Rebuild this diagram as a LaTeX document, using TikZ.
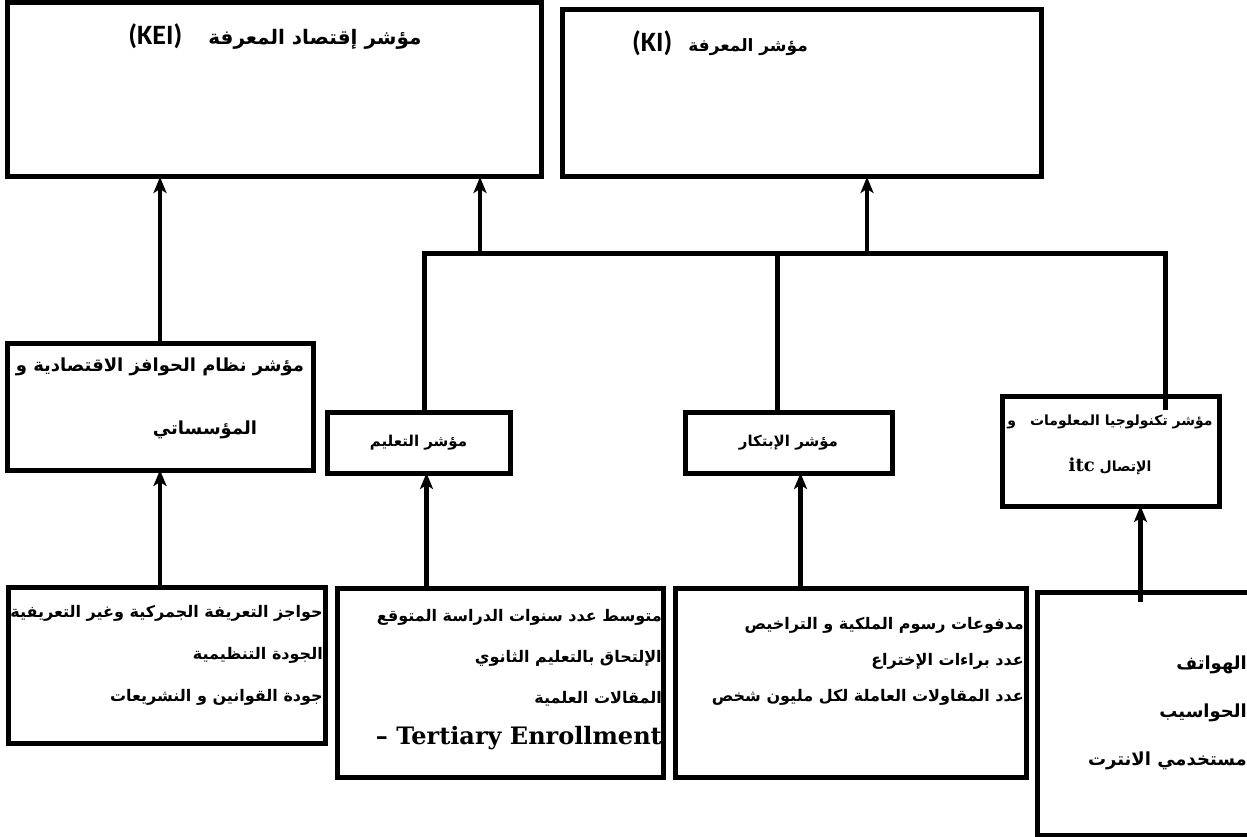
\documentclass[tikz,border=0pt]{standalone}
\usepackage{fontspec}
\setmainfont{DejaVu Serif}
\newfontfamily\arabicfont[Script=Arabic]{DejaVu Sans}
\newfontfamily\calfont{Carlito}
\newfontfamily\serifbf{DejaVu Serif}
\TeXXeTstate=1
\usetikzlibrary{arrows.meta, positioning}

\newcommand{\artxt}[1]{\beginR #1\endR}
\newcommand{\ltrtxt}[1]{\beginL #1\endL}

\begin{document}
\begin{tikzpicture}[x=1pt, y=-1pt,
    box/.style={draw, line width=5pt, inner sep=0pt, outer sep=0pt},
    lbl/.style={inner sep=0pt},
    link/.style={line width=5pt},
    arr/.style={line width=4.5pt, -{Stealth[length=16pt, width=13pt, inset=4pt]}}
  ]
  \useasboundingbox (0,0) rectangle (1247,837);

  % Indizes oben
  \node[box, minimum width=534pt, minimum height=174pt] (kei) at (274,90) {};
  \node[box, minimum width=479pt, minimum height=167pt] (ki) at (801.5,93.5) {};
  \node[lbl, font=\arabicfont\bfseries\fontsize{20}{24}\selectfont] (keiT) at (275,37)
    {\artxt{مؤشر إقتصاد المعرفة\hspace{26pt}\ltrtxt{\calfont\fontsize{28}{30}\selectfont (KEI)}}};
  \node[lbl, font=\arabicfont\bfseries\fontsize{17}{24}\selectfont] (kiT) at (720,43)
    {\artxt{مؤشر المعرفة\hspace{16pt}\ltrtxt{\calfont\fontsize{28}{30}\selectfont (KI)}}};

  % Teilindizes
  \node[box, minimum width=306pt, minimum height=127pt] (inst) at (160,406.5) {};
  \node[box, minimum width=183pt, minimum height=61pt] (edu) at (418.5,442.5) {};
  \node[box, minimum width=207pt, minimum height=61pt] (inn) at (788.5,442.5) {};
  \node[box, minimum width=217pt, minimum height=110pt] (ict) at (1110.5,451) {};

  \node[lbl, font=\arabicfont\bfseries\fontsize{18}{22}\selectfont] (instT1) at (160,367)
    {\artxt{مؤشر نظام الحوافز الاقتصادية و}};
  \node[lbl, font=\arabicfont\bfseries\fontsize{18}{22}\selectfont] (instT2) at (205,430)
    {\artxt{المؤسساتي}};
  \node[lbl, font=\arabicfont\bfseries\fontsize{15}{18}\selectfont] (eduT) at (edu) {\artxt{مؤشر التعليم}};
  \node[lbl, font=\arabicfont\bfseries\fontsize{15}{18}\selectfont] (innT) at (inn) {\artxt{مؤشر الإبتكار}};
  \node[lbl, align=center, font=\arabicfont\bfseries\fontsize{14}{46}\selectfont] (ictT) at (1110,445)
    {\artxt{مؤشر تكنولوجيا المعلومات\hspace{14pt}و}\\\artxt{الإتصال \ltrtxt{\serifbf\fontsize{18}{20}\selectfont itc}}};

  % Variablen unten
  \node[box, minimum width=317pt, minimum height=156pt] (b1) at (166.5,665) {};
  \node[box, minimum width=326pt, minimum height=189pt] (b2) at (500,682.5) {};
  \node[box, minimum width=351pt, minimum height=189pt] (b3) at (850.5,682.5) {};
  \node[box, minimum width=215pt, minimum height=243pt] (b4) at (1144.5,713.5) {};

  \node[lbl, anchor=east, align=right, font=\arabicfont\bfseries\fontsize{16}{42}\selectfont] (b1T) at (323,655)
    {\artxt{حواجز التعريفة الجمركية وغير التعريفية}\\\artxt{الجودة التنظيمية}\\\artxt{جودة القوانين و النشريعات}};
  \node[lbl, anchor=east, align=right, font=\arabicfont\bfseries\fontsize{16}{41}\selectfont] (b2T) at (662,680)
    {\artxt{متوسط عدد سنوات الدراسة المتوقع}\\\artxt{الإلتحاق بالتعليم الثانوي}\\\artxt{المقالات العلمية}\\{\serifbf\bfseries\fontsize{24}{28}\selectfont – Tertiary Enrollment}};
  \node[lbl, anchor=east, align=right, font=\arabicfont\bfseries\fontsize{16}{36}\selectfont] (b3T) at (1024,661)
    {\artxt{مدفوعات رسوم الملكية و التراخيص}\\\artxt{عدد براءات الإختراع}\\\artxt{عدد المقاولات العاملة لكل مليون شخص}};
  \node[lbl, anchor=east, align=right, font=\arabicfont\bfseries\fontsize{18}{48}\selectfont] (b4T) at (1247,713)
    {\artxt{الهواتف}\\\artxt{الحواسيب}\\\artxt{مستخدمي الانترت}};

  % Verbindungen
  \coordinate (busL) at (424,253);
  \coordinate (busM) at (777,253);
  \coordinate (busR) at (1165,253);
  \coordinate (keiIn) at (480,253);
  \coordinate (kiIn) at (867,253);
  \draw[link] (busL |- edu.north) -- (busL) -- (busR) -- ([yshift=-14pt]busR |- ict.north);
  \draw[link] (busM) -- (busM |- inn.north);
  \draw[arr] (keiIn) -- (keiIn |- kei.south);
  \draw[arr] (kiIn) -- (kiIn |- ki.south);
  \draw[arr] (inst.north) -- (inst.north |- kei.south);

  \draw[arr] (inst.south |- b1.north) -- (inst.south);
  \draw[arr] ([xshift=8pt]edu.south |- b2.north) -- ([xshift=8pt]edu.south);
  \draw[arr] ([xshift=12pt]inn.south |- b3.north) -- ([xshift=12pt]inn.south);
  \draw[arr] ([xshift=30pt, yshift=-10pt]ict.south |- b4.north) -- ([xshift=30pt]ict.south);
\end{tikzpicture}
\end{document}
